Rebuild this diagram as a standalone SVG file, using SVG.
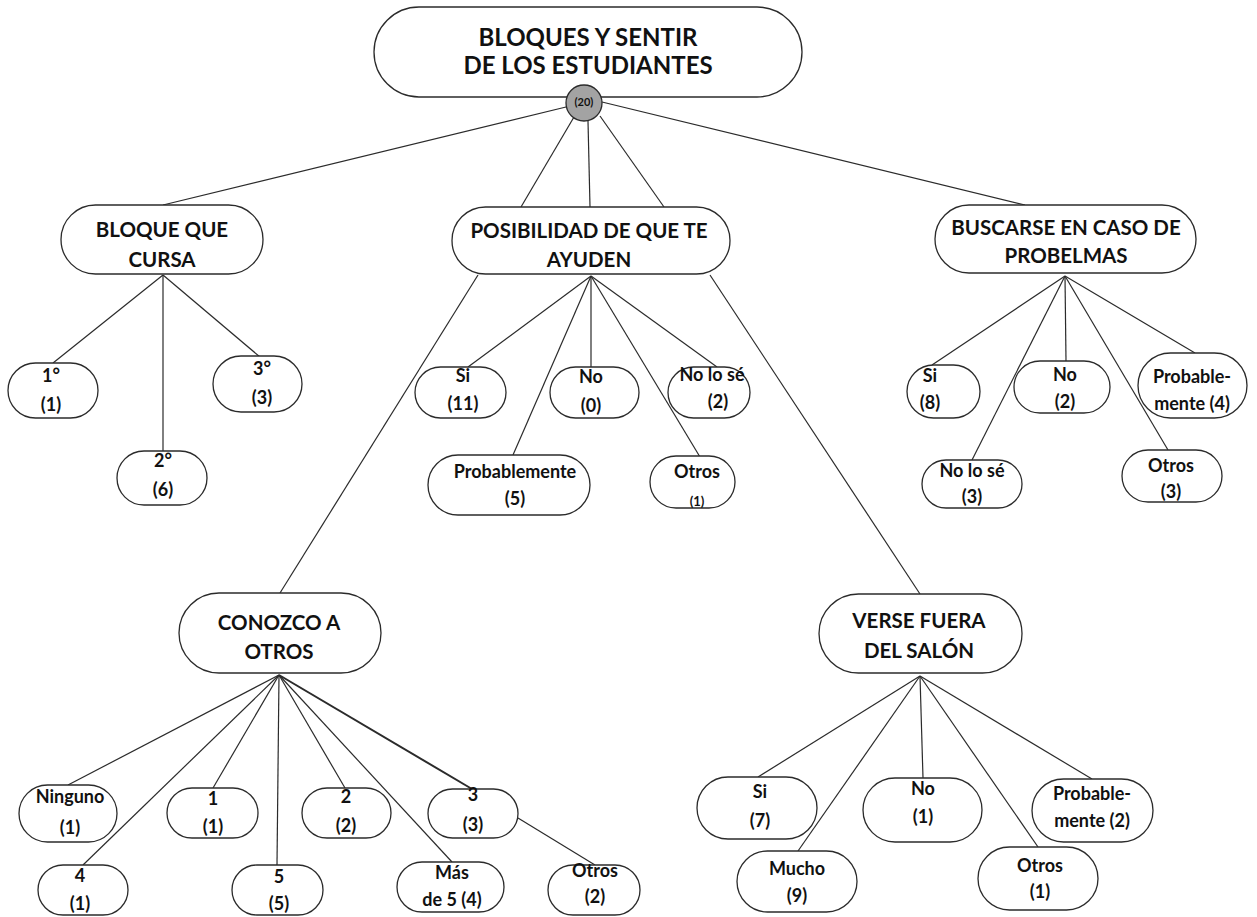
<svg xmlns="http://www.w3.org/2000/svg" width="1257" height="917" viewBox="0 0 1257 917">
<style>
  .box{fill:#fff;stroke:#2b2b2b;stroke-width:1.3}
  .ln{stroke:#2b2b2b;stroke-width:1.2;fill:none}
  text{font-family:Lato,"Open Sans","Liberation Sans",sans-serif;font-weight:bold;fill:#111;text-anchor:middle}
  .h0{font-size:24px}
  .h1{font-size:20.5px}
  .lf{font-size:18px}
</style>
<rect width="1257" height="917" fill="#fff"/>
<g id="connectors">
  <line class="ln" x1="566" y1="107" x2="163" y2="205"/>
  <line class="ln" x1="574" y1="117" x2="521" y2="207"/>
  <line class="ln" x1="588" y1="121" x2="590" y2="207"/>
  <line class="ln" x1="600" y1="116" x2="664" y2="207"/>
  <line class="ln" x1="602" y1="102" x2="1025" y2="205"/>
  <line class="ln" x1="163" y1="275" x2="53" y2="363"/>
  <line class="ln" x1="163" y1="275" x2="163" y2="451"/>
  <line class="ln" x1="163" y1="275" x2="260" y2="357"/>
  <line class="ln" x1="478" y1="275" x2="280" y2="593"/>
  <line class="ln" x1="710" y1="275" x2="920" y2="594"/>
  <line class="ln" x1="591" y1="276" x2="468" y2="367"/>
  <line class="ln" x1="591" y1="276" x2="591" y2="367"/>
  <line class="ln" x1="591" y1="276" x2="513" y2="455"/>
  <line class="ln" x1="591" y1="276" x2="700" y2="457"/>
  <line class="ln" x1="591" y1="276" x2="717" y2="367"/>
  <line class="ln" x1="1065" y1="276" x2="932" y2="365"/>
  <line class="ln" x1="1065" y1="276" x2="972" y2="460"/>
  <line class="ln" x1="1065" y1="276" x2="1066" y2="361"/>
  <line class="ln" x1="1065" y1="276" x2="1168" y2="450"/>
  <line class="ln" x1="1065" y1="276" x2="1195" y2="353"/>
  <line class="ln" x1="279" y1="675" x2="68" y2="785"/>
  <line class="ln" x1="279" y1="675" x2="83" y2="865"/>
  <line class="ln" x1="279" y1="675" x2="213" y2="788"/>
  <line class="ln" x1="279" y1="675" x2="277" y2="865"/>
  <line class="ln" x1="279" y1="675" x2="345" y2="788"/>
  <line class="ln" x1="279" y1="675" x2="452" y2="862"/>
  <line class="ln" x1="279" y1="675" x2="472" y2="789" style="stroke-width:2"/>
  <line class="ln" x1="518" y1="818" x2="595" y2="865"/>
  <line class="ln" x1="920" y1="676" x2="758" y2="777"/>
  <line class="ln" x1="920" y1="676" x2="798" y2="851"/>
  <line class="ln" x1="920" y1="676" x2="923" y2="778"/>
  <line class="ln" x1="920" y1="676" x2="1038" y2="847"/>
  <line class="ln" x1="920" y1="676" x2="1092" y2="779"/>
</g>
<g id="root">
  <rect class="box" x="374" y="7" width="428" height="90" rx="45"/>
  <text class="h0" x="588" y="46">BLOQUES Y SENTIR</text>
  <text class="h0" x="588" y="74">DE LOS ESTUDIANTES</text>
</g>
<g id="total">
  <circle cx="584" cy="103" r="18" fill="#a3a3a3" stroke="#2b2b2b" stroke-width="1.3"/>
  <text x="584" y="106" style="font-size:11px">(20)</text>
</g>
<g id="bloque">
  <rect class="box" x="61" y="205" width="202" height="69" rx="34.5"/>
  <text class="h1" x="162" y="237">BLOQUE QUE</text>
  <text class="h1" x="162" y="267">CURSA</text>
</g>
<g id="b1">
  <rect class="box" x="8" y="363" width="90" height="55" rx="27.5"/>
  <text class="lf" x="51" y="382">1°</text>
  <text class="lf" x="51" y="411">(1)</text>
</g>
<g id="b2">
  <rect class="box" x="117" y="451" width="90" height="54" rx="27"/>
  <text class="lf" x="163" y="467">2°</text>
  <text class="lf" x="163" y="496">(6)</text>
</g>
<g id="b3">
  <rect class="box" x="213" y="356" width="89" height="56" rx="28"/>
  <text class="lf" x="262" y="375">3°</text>
  <text class="lf" x="262" y="404">(3)</text>
</g>
<g id="posibilidad">
  <rect class="box" x="452" y="207" width="278" height="67" rx="33.5"/>
  <text class="h1" x="589" y="238">POSIBILIDAD DE QUE TE</text>
  <text class="h1" x="589" y="267">AYUDEN</text>
</g>
<g id="p-si">
  <rect class="box" x="415" y="367" width="91" height="51" rx="25.5"/>
  <text class="lf" x="463" y="382">Si</text>
  <text class="lf" x="463" y="410">(11)</text>
</g>
<g id="p-no">
  <rect class="box" x="550" y="367" width="89" height="51" rx="25.5"/>
  <text class="lf" x="591" y="383">No</text>
  <text class="lf" x="591" y="412">(0)</text>
</g>
<g id="p-nolose">
  <rect class="box" x="668" y="367" width="82" height="51" rx="25.5"/>
  <text class="lf" x="712" y="381">No lo sé</text>
  <text class="lf" x="718" y="408">(2)</text>
</g>
<g id="p-probable">
  <rect class="box" x="428" y="455" width="162" height="60" rx="30"/>
  <text class="lf" x="515" y="478">Probablemente</text>
  <text class="lf" x="515" y="505">(5)</text>
</g>
<g id="p-otros">
  <rect class="box" x="650" y="456" width="85" height="52" rx="26"/>
  <text class="lf" x="697" y="478">Otros</text>
  <text x="697" y="506" style="font-size:13px">(1)</text>
</g>
<g id="buscarse">
  <rect class="box" x="935" y="205" width="261" height="68" rx="34"/>
  <text class="h1" x="1066" y="235">BUSCARSE EN CASO DE</text>
  <text class="h1" x="1066" y="263">PROBELMAS</text>
</g>
<g id="bu-si">
  <rect class="box" x="907" y="365" width="73" height="53" rx="26.5"/>
  <text class="lf" x="930" y="382">Si</text>
  <text class="lf" x="930" y="409">(8)</text>
</g>
<g id="bu-no">
  <rect class="box" x="1014" y="361" width="96" height="52" rx="26"/>
  <text class="lf" x="1065" y="381">No</text>
  <text class="lf" x="1065" y="408">(2)</text>
</g>
<g id="bu-probable">
  <rect class="box" x="1138" y="353" width="109" height="65" rx="32.5"/>
  <text class="lf" x="1192" y="383">Probable-</text>
  <text class="lf" x="1192" y="410">mente (4)</text>
</g>
<g id="bu-nolose">
  <rect class="box" x="922" y="460" width="100" height="48" rx="24"/>
  <text class="lf" x="972" y="477">No lo sé</text>
  <text class="lf" x="972" y="503">(3)</text>
</g>
<g id="bu-otros">
  <rect class="box" x="1122" y="450" width="100" height="52" rx="26"/>
  <text class="lf" x="1171" y="472">Otros</text>
  <text class="lf" x="1171" y="498">(3)</text>
</g>
<g id="conozco">
  <rect class="box" x="179" y="593" width="202" height="80" rx="40"/>
  <text class="h1" x="279" y="630">CONOZCO A</text>
  <text class="h1" x="279" y="659">OTROS</text>
</g>
<g id="c-ninguno">
  <rect class="box" x="19" y="785" width="98" height="57" rx="28.5"/>
  <text class="lf" x="70" y="803">Ninguno</text>
  <text class="lf" x="70" y="834">(1)</text>
</g>
<g id="c-1">
  <rect class="box" x="167" y="788" width="91" height="50" rx="25"/>
  <text class="lf" x="213" y="805">1</text>
  <text class="lf" x="213" y="833">(1)</text>
</g>
<g id="c-2">
  <rect class="box" x="302" y="788" width="89" height="50" rx="25"/>
  <text class="lf" x="346" y="803">2</text>
  <text class="lf" x="346" y="832">(2)</text>
</g>
<g id="c-3">
  <rect class="box" x="428" y="789" width="90" height="49" rx="24.5"/>
  <text class="lf" x="473" y="801">3</text>
  <text class="lf" x="473" y="831">(3)</text>
</g>
<g id="c-4">
  <rect class="box" x="38" y="865" width="90" height="50" rx="25"/>
  <text class="lf" x="80" y="882">4</text>
  <text class="lf" x="80" y="910">(1)</text>
</g>
<g id="c-5">
  <rect class="box" x="232" y="865" width="91" height="50" rx="25"/>
  <text class="lf" x="279" y="883">5</text>
  <text class="lf" x="279" y="910">(5)</text>
</g>
<g id="c-mas">
  <rect class="box" x="397" y="862" width="107" height="50" rx="25"/>
  <text class="lf" x="452" y="879">Más</text>
  <text class="lf" x="452" y="906">de 5 (4)</text>
</g>
<g id="c-otros">
  <rect class="box" x="548" y="865" width="92" height="50" rx="25"/>
  <text class="lf" x="595" y="877">Otros</text>
  <text class="lf" x="595" y="903">(2)</text>
</g>
<g id="verse">
  <rect class="box" x="819" y="594" width="203" height="79" rx="39.5"/>
  <text class="h1" x="919" y="628">VERSE FUERA</text>
  <text class="h1" x="919" y="658">DEL SALÓN</text>
</g>
<g id="v-si">
  <rect class="box" x="697" y="777" width="120" height="62" rx="31"/>
  <text class="lf" x="760" y="798">Si</text>
  <text class="lf" x="760" y="827">(7)</text>
</g>
<g id="v-mucho">
  <rect class="box" x="737" y="851" width="120" height="61" rx="30.5"/>
  <text class="lf" x="797" y="875">Mucho</text>
  <text class="lf" x="797" y="902">(9)</text>
</g>
<g id="v-no">
  <rect class="box" x="863" y="778" width="119" height="64" rx="32"/>
  <text class="lf" x="923" y="795">No</text>
  <text class="lf" x="923" y="823">(1)</text>
</g>
<g id="v-probable">
  <rect class="box" x="1032" y="779" width="121" height="63" rx="31.5"/>
  <text class="lf" x="1092" y="800">Probable-</text>
  <text class="lf" x="1092" y="827">mente (2)</text>
</g>
<g id="v-otros">
  <rect class="box" x="978" y="847" width="120" height="63" rx="31.5"/>
  <text class="lf" x="1040" y="872">Otros</text>
  <text class="lf" x="1040" y="898">(1)</text>
</g>
</svg>
